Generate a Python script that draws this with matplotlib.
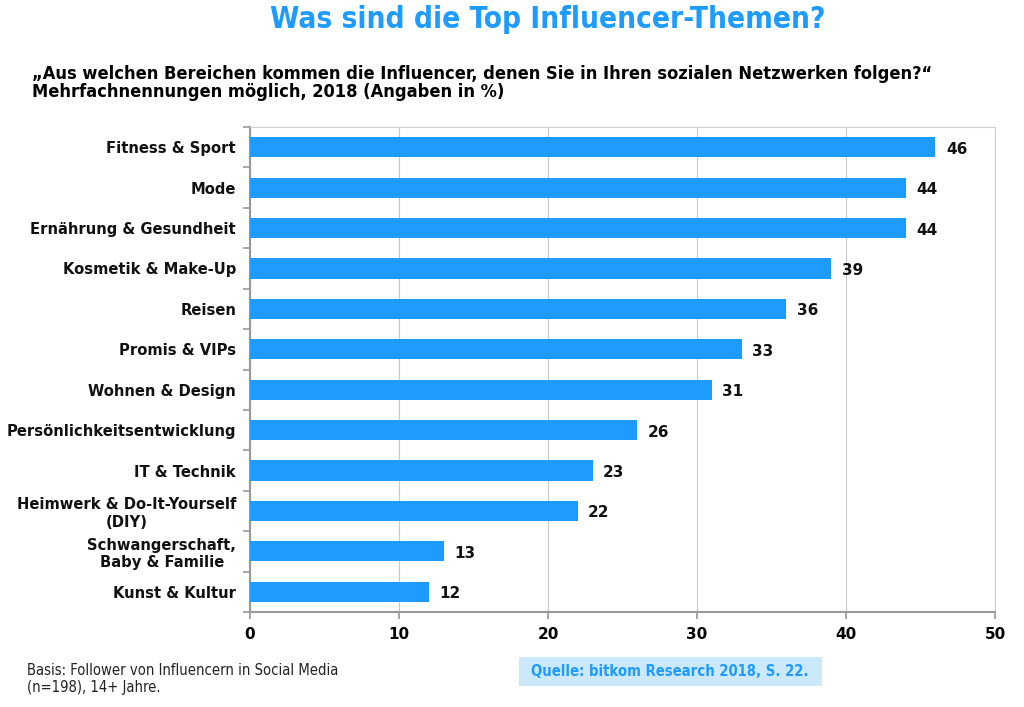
import matplotlib
matplotlib.use("Agg")
import matplotlib.pyplot as plt
from matplotlib.patches import Rectangle

categories = ["Fitness & Sport", "Mode", "Ernährung & Gesundheit", "Kosmetik & Make-Up",
              "Reisen", "Promis & VIPs", "Wohnen & Design", "Persönlichkeitsentwicklung",
              "IT & Technik", "Heimwerk & Do-It-Yourself\n(DIY)", "Schwangerschaft,\nBaby & Familie",
              "Kunst & Kultur"]
values = [46, 44, 44, 39, 36, 33, 31, 26, 23, 22, 13, 12]
xticks = [0, 10, 20, 30, 40, 50]

BLUE = "#1E9BFF"
W, H = 1024, 707
fig = plt.figure(figsize=(W / 100, H / 100), dpi=100)
ax = fig.add_axes([250 / W, 1 - 612 / H, (995 - 250) / W, (612 - 127) / H])

n = len(categories)
ypos = list(range(n))
ax.barh(ypos, values, height=0.5, color=BLUE, zorder=3)
ax.set_ylim(n - 0.5, -0.5)
ax.set_xlim(0, 50)
for y, v in zip(ypos, values):
    ax.text(v + 0.7, y + 0.05, str(v), va="center", ha="left", fontsize=11,
            fontweight="bold", family="DejaVu Sans", color="#111111")

ax.set_yticks(ypos)
ax.set_yticklabels(categories, fontsize=10.6, fontweight="bold", family="DejaVu Sans",
                   multialignment="center", color="#111111")
ax.set_yticks([i - 0.5 for i in range(n + 1)], minor=True)
ax.tick_params(axis="y", which="major", length=0, pad=10)
ax.tick_params(axis="y", which="minor", length=5, color="#999999", width=1.2)
ax.set_xticks(xticks)
ax.set_xticklabels([str(t) for t in xticks], fontsize=11, fontweight="bold", family="DejaVu Sans")
ax.tick_params(axis="x", length=5, color="#999999", width=1.2, pad=6)

ax.grid(axis="x", color="#c8c8c8", linewidth=0.8, zorder=0)
for s in ["top", "right"]:
    ax.spines[s].set_color("#d0d0d0")
for s in ["left", "bottom"]:
    ax.spines[s].set_color("#999999")
    ax.spines[s].set_linewidth(1.5)

cond = dict(family="DejaVu Sans", fontstretch="condensed")
fig.text(548 / W, 1 - 20 / H, "Was sind die Top Influencer-Themen?", ha="center", va="center",
         fontsize=21.3, fontweight="bold", color=BLUE, **cond)
fig.text(32 / W, 1 - 83 / H,
         "„Aus welchen Bereichen kommen die Influencer, denen Sie in Ihren sozialen Netzwerken folgen?“\nMehrfachnennungen möglich, 2018 (Angaben in %)",
         ha="left", va="center", fontsize=13.1, fontweight="bold", color="#000000",
         linespacing=0.98, **cond)
fig.text(27 / W, 1 - 679 / H, "Basis: Follower von Influencern in Social Media\n(n=198), 14+ Jahre.",
         ha="left", va="center", fontsize=10.6, color="#222222", linespacing=1.15, **cond)
fig.patches.append(Rectangle((519 / W, 1 - 686 / H), (822 - 519) / W, (686 - 657) / H,
                             transform=fig.transFigure, facecolor="#CCE9FB", edgecolor="none"))
fig.text(670 / W, 1 - 671 / H, "Quelle: bitkom Research 2018, S. 22.", ha="center", va="center",
         fontsize=10.6, fontweight="bold", color=BLUE, **cond)

fig.savefig("out.png", dpi=100)
